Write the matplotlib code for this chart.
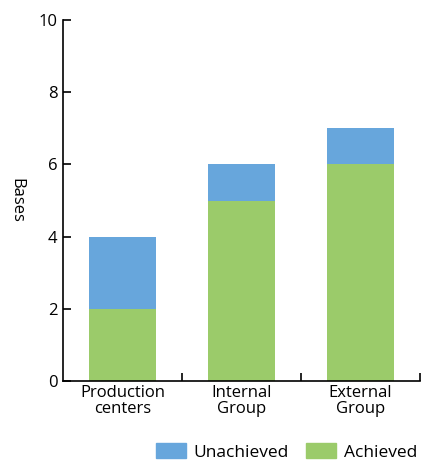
import numpy as np
import matplotlib.pyplot as plt
from matplotlib.patches import Patch

# datos
categorias = ['Production\ncenters', 'Internal\nGroup', 'External\nGroup']
achieved = [2, 5, 6]
unachieved = [2, 1, 1]
yticks = [0, 2, 4, 6, 8, 10]

verde = '#9bcb6a'
azul = '#67a6dc'

plt.rcParams['font.family'] = ['Open Sans', 'DejaVu Sans']
plt.rcParams['font.size'] = 12

fig = plt.figure(figsize=(4.22, 4.66), dpi=100)
ax = fig.add_axes([0.149, 0.182, 0.846, 0.775])

x = np.arange(len(categorias))
ax.bar(x, achieved, width=0.56, color=verde)
ax.bar(x, unachieved, width=0.56, bottom=achieved, color=azul)

ax.set_xlim(-0.5, 2.5)
ax.set_ylim(0, 10)
ax.set_yticks(yticks)
ax.set_ylabel('Bases', rotation=270, fontsize=12, va='center')
ax.yaxis.set_label_coords(-0.13, 0.5)

# ticks de categorias sin marca, marcas en los limites
ax.set_xticks(x)
ax.set_xticklabels(categorias, linespacing=1.0)
ax.tick_params(axis='x', length=0, pad=3)
ax.set_xticks([0.5, 1.5, 2.5], minor=True)
ax.tick_params(axis='x', which='minor', direction='in', length=6, width=1.2)
ax.tick_params(axis='y', direction='in', length=6, width=1.2, pad=4, labelsize=12)

for s in ['top', 'right']:
    ax.spines[s].set_visible(False)
for s in ['left', 'bottom']:
    ax.spines[s].set_linewidth(1.2)

handles = [Patch(color=azul, label='Unachieved'), Patch(color=verde, label='Achieved')]
fig.legend(handles=handles, loc='lower right', ncol=2, frameon=False,
           bbox_to_anchor=(1.025, -0.022), handlelength=1.7, handleheight=0.95,
           columnspacing=1.0, handletextpad=0.45, fontsize=12.5)

plt.savefig('out.png', dpi=100)
